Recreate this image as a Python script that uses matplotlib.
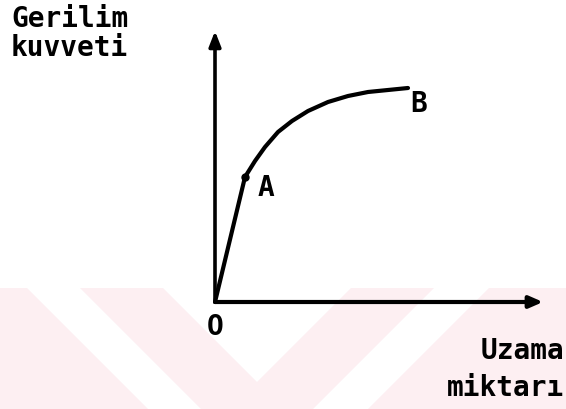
import matplotlib
matplotlib.use("Agg")
import matplotlib.pyplot as plt
from matplotlib.patches import Polygon

# ---- data (arbitrary units) ----
elastic_x = [0, 30]
elastic_y = [0, 125]
curve_x = [30, 40, 50, 63, 77, 93, 113, 133, 153, 173, 193]
curve_y = [125, 141, 155, 170, 181, 191, 200, 206, 210, 212, 214]
point_labels = ["O", "A", "B"]
y_label = "Gerilim\nkuvveti"
x_label = "Uzama\nmiktarı"
x_axis_end = 328
y_axis_end = 271

# ---- background watermark shapes (figure pixels) ----
W, H = 566.0, 410.0
wm_shapes = [
    [(0, 289), (27, 289), (148, 410), (0, 410)],
    [(80, 289), (163, 289), (257, 383), (351, 289), (434, 289), (313, 410), (201, 410)],
    [(489, 289), (566, 289), (566, 410), (368, 410)],
]
wm_color = "#fdeff2"

fig = plt.figure(figsize=(5.66, 4.10), dpi=100)
fig.patch.set_facecolor("white")

bg = fig.add_axes([0, 0, 1, 1], zorder=0)
bg.set_xlim(0, W)
bg.set_ylim(H, 0)
bg.axis("off")
for shp in wm_shapes:
    bg.add_patch(Polygon(shp, closed=True, facecolor=wm_color, edgecolor="none"))

ax = fig.add_axes([0, 0, 1, 1], zorder=1)
ax.set_xlim(-215, 351)
ax.set_ylim(-107, 303)
ax.axis("off")
ax.patch.set_alpha(0)

ink = "black"
# axes with arrows
ax.annotate("", xy=(0, y_axis_end), xytext=(0, 0),
            arrowprops=dict(arrowstyle="-|>,head_length=0.9,head_width=0.35",
                            lw=2.6, color=ink, shrinkA=0, shrinkB=0))
ax.annotate("", xy=(x_axis_end, 0), xytext=(0, 0),
            arrowprops=dict(arrowstyle="-|>,head_length=0.8,head_width=0.35",
                            lw=3.0, color=ink, shrinkA=0, shrinkB=0))

# curve
ax.plot(elastic_x, elastic_y, color=ink, lw=3.0, solid_capstyle="round")
ax.plot(curve_x, curve_y, color=ink, lw=3.0, solid_capstyle="round",
        solid_joinstyle="round")
ax.plot([elastic_x[-1]], [elastic_y[-1]], marker="o", ms=5, color=ink)

font = dict(family="DejaVu Sans Mono", color=ink, fontweight="bold")
ax.annotate(point_labels[0], xy=(0, 0), xytext=(0, -24), textcoords="offset pixels",
            ha="center", va="center", fontsize=20, **font)
ax.annotate(point_labels[1], xy=(elastic_x[-1], elastic_y[-1]), xytext=(21, -10),
            textcoords="offset pixels", ha="center", va="center", fontsize=20, **font)
ax.annotate(point_labels[2], xy=(curve_x[-1], curve_y[-1]), xytext=(11, -15),
            textcoords="offset pixels", ha="center", va="center", fontsize=20, **font)

ax.annotate(y_label, xy=(0, y_axis_end), xytext=(-204, 27), textcoords="offset pixels",
            ha="left", va="top", fontsize=20, linespacing=1.05, **font)
ax.annotate(x_label, xy=(x_axis_end, 0), xytext=(21, -34), textcoords="offset pixels",
            ha="right", va="top", fontsize=20, linespacing=1.4, **font)

fig.savefig("out.png", dpi=100)
